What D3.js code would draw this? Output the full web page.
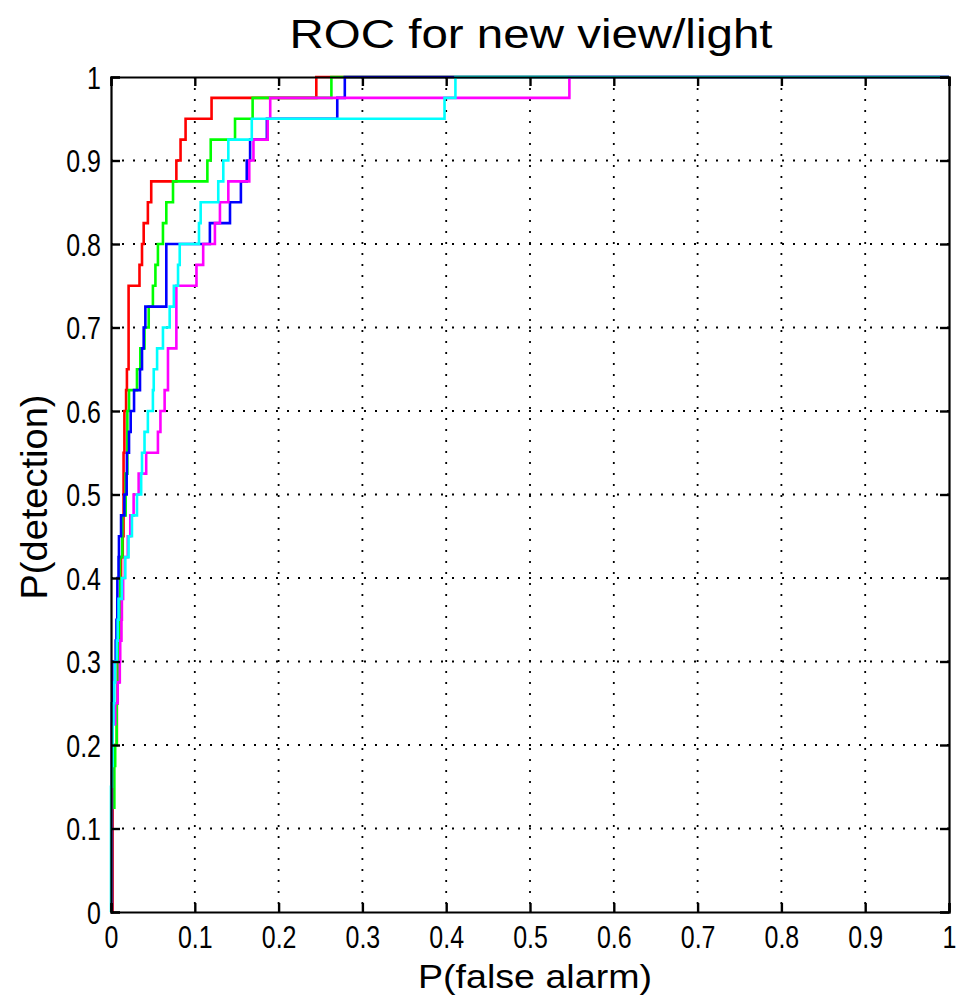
<!DOCTYPE html>
<html>
<head>
<meta charset="utf-8">
<script src="https://cdn.jsdelivr.net/npm/d3@7/dist/d3.min.js"></script>
<style>
  html, body { margin: 0; padding: 0; background: #fff; }
  svg { display: block; }
  text { font-family: "Liberation Sans", Arial, Helvetica, sans-serif; fill: #000; }
</style>
</head>
<body>
<svg id="chart" width="958" height="998"></svg>
<script>
// ---------- data ----------
const titleText = "ROC for new view/light";
const xLabelText = "P(false alarm)";
const yLabelText = "P(detection)";

const tickValues = [0, 0.1, 0.2, 0.3, 0.4, 0.5, 0.6, 0.7, 0.8, 0.9, 1];
const tickLabels = ["0", "0.1", "0.2", "0.3", "0.4", "0.5", "0.6", "0.7", "0.8", "0.9", "1"];

// P(detection) levels reached at each step (40 positives)
const tprSteps = [0.025, 0.05, 0.075, 0.1, 0.125, 0.15, 0.175, 0.2, 0.225, 0.25,
                  0.275, 0.3, 0.325, 0.35, 0.375, 0.4, 0.425, 0.45, 0.475, 0.5,
                  0.525, 0.55, 0.575, 0.6, 0.625, 0.65, 0.675, 0.7, 0.725, 0.75,
                  0.775, 0.8, 0.825, 0.85, 0.875, 0.9, 0.925, 0.95, 0.975, 1.0];

// P(false alarm) at which each curve reaches the matching level in tprSteps
const redFA = [0.002, 0.002, 0.002, 0.002, 0.002, 0.002, 0.002, 0.002, 0.007, 0.007,
               0.008, 0.008, 0.009, 0.010, 0.011, 0.012, 0.012, 0.014, 0.015, 0.015,
               0.015, 0.015, 0.016, 0.016, 0.018, 0.019, 0.021, 0.021, 0.021, 0.021,
               0.034, 0.037, 0.039, 0.044, 0.048, 0.078, 0.083, 0.089, 0.120, 0.245];
const greenFA = [0.001, 0.001, 0.001, 0.001, 0.001, 0.004, 0.004, 0.005, 0.0068, 0.0068,
                 0.008, 0.009, 0.009, 0.010, 0.011, 0.011, 0.0107, 0.0135, 0.0135, 0.0175,
                 0.0175, 0.0195, 0.0195, 0.0195, 0.0215, 0.031, 0.035, 0.040, 0.045, 0.050,
                 0.053, 0.056, 0.062, 0.066, 0.074, 0.115, 0.119, 0.148, 0.169, 0.263];
const blueFA = [0.001, 0.001, 0.001, 0.001, 0.001, 0.001, 0.001, 0.001, 0.001, 0.001,
                0.0015, 0.0015, 0.0056, 0.0065, 0.0075, 0.0076, 0.009, 0.0095, 0.012, 0.016,
                0.0187, 0.019, 0.0215, 0.0235, 0.0275, 0.0346, 0.037, 0.039, 0.041, 0.066,
                0.066, 0.066, 0.118, 0.142, 0.155, 0.162, 0.166, 0.186, 0.270, 0.279];
const magentaFA = [0.001, 0.001, 0.001, 0.001, 0.001, 0.001, 0.001, 0.001, 0.001, 0.005,
                   0.008, 0.0105, 0.011, 0.0125, 0.013, 0.0145, 0.0165, 0.020, 0.023, 0.027,
                   0.033, 0.042, 0.056, 0.059, 0.064, 0.068, 0.068, 0.078, 0.078, 0.078,
                   0.102, 0.110, 0.124, 0.130, 0.140, 0.165, 0.170, 0.187, 0.190, 0.547];
const cyanFA = [0, 0, 0, 0, 0, 0, 0.001, 0.002, 0.002, 0.003,
                0.004, 0.005, 0.007, 0.008, 0.009, 0.013, 0.017, 0.021, 0.025, 0.031,
                0.036, 0.037, 0.040, 0.044, 0.050, 0.051, 0.055, 0.062, 0.070, 0.075,
                0.080, 0.082, 0.105, 0.107, 0.128, 0.134, 0.140, 0.168, 0.398, 0.411];

const seriesNames = ["red", "green", "blue", "magenta", "cyan"];
const seriesColors = ["#ff0000", "#00ff00", "#0000ff", "#ff00ff", "#00ffff"];
const seriesFA = [redFA, greenFA, blueFA, magentaFA, cyanFA];

// ---------- layout ----------
const svg = d3.select("#chart");
const pLeft = 111, pRight = 949, pTop = 77, pBottom = 912;

const x = d3.scaleLinear().domain([0, 1]).range([pLeft, pRight]);
const y = d3.scaleLinear().domain([0, 1]).range([pBottom, pTop]);

const fmt = d => tickLabels[tickValues.indexOf(d)];

// grid (dotted)
const gridVals = tickValues.slice(1, -1);
const grid = svg.append("g");
grid.selectAll("line.gx").data(gridVals).join("line").attr("class", "gx")
  .attr("x1", d => x(d)).attr("x2", d => x(d))
  .attr("y1", pTop).attr("y2", pBottom)
  .attr("stroke", "#000").attr("stroke-width", 1.8)
  .attr("stroke-dasharray", "2,9");
grid.selectAll("line.gy").data(gridVals).join("line").attr("class", "gy")
  .attr("y1", d => y(d)).attr("y2", d => y(d))
  .attr("x1", pLeft).attr("x2", pRight)
  .attr("stroke", "#000").attr("stroke-width", 1.8)
  .attr("stroke-dasharray", "2,9");

// curves
const line = d3.line()
  .x(d => x(d[0])).y(d => y(d[1]))
  .curve(d3.curveStepAfter);

seriesFA.forEach((fa, i) => {
  const pts = [[0, 0]].concat(fa.map((v, k) => [v, tprSteps[k]])).concat([[1, 1]]);
  svg.append("path")
    .datum(pts)
    .attr("d", line)
    .attr("fill", "none")
    .attr("stroke", seriesColors[i])
    .attr("stroke-width", 2.6)
    .attr("stroke-linejoin", "miter");
});

// axes with inward ticks on all sides
const tickLen = 9;
const axB = svg.append("g").attr("transform", `translate(0,${pBottom})`)
  .call(d3.axisBottom(x).tickValues(tickValues).tickFormat(fmt).tickSize(-tickLen));
const axT = svg.append("g").attr("transform", `translate(0,${pTop})`)
  .call(d3.axisTop(x).tickValues(tickValues).tickFormat("").tickSize(-tickLen));
const axL = svg.append("g").attr("transform", `translate(${pLeft},0)`)
  .call(d3.axisLeft(y).tickValues(tickValues).tickFormat(fmt).tickSize(-tickLen));
const axR = svg.append("g").attr("transform", `translate(${pRight},0)`)
  .call(d3.axisRight(y).tickValues(tickValues).tickFormat("").tickSize(-tickLen));

[axB, axT, axL, axR].forEach(g => {
  g.select(".domain").attr("stroke", "#000").attr("stroke-width", 2.2);
  g.selectAll(".tick line").attr("stroke", "#000").attr("stroke-width", 2.4);
});

axB.selectAll(".tick text")
  .attr("font-size", 32)
  .attr("font-family", "Liberation Sans, Arial, sans-serif")
  .attr("fill", "#000")
  .attr("dy", 0)
  .attr("y", 0)
  .attr("transform", "translate(0,36) scale(0.78,1)");

axL.selectAll(".tick text")
  .attr("font-size", 32)
  .attr("font-family", "Liberation Sans, Arial, sans-serif")
  .attr("fill", "#000")
  .attr("x", 0)
  .attr("dy", "0.35em")
  .attr("transform", "translate(-10,0) scale(0.78,1)");

// title and labels
svg.append("text")
  .attr("x", 531).attr("y", 48)
  .attr("text-anchor", "middle")
  .attr("font-size", 41)
  .attr("textLength", 483).attr("lengthAdjust", "spacingAndGlyphs")
  .text(titleText);

svg.append("text")
  .attr("x", 535).attr("y", 988)
  .attr("text-anchor", "middle")
  .attr("font-size", 34)
  .attr("textLength", 234).attr("lengthAdjust", "spacingAndGlyphs")
  .text(xLabelText);

svg.append("text")
  .attr("transform", `translate(47,497) rotate(-90)`)
  .attr("text-anchor", "middle")
  .attr("font-size", 37)
  .attr("textLength", 205).attr("lengthAdjust", "spacingAndGlyphs")
  .text(yLabelText);
</script>
</body>
</html>
